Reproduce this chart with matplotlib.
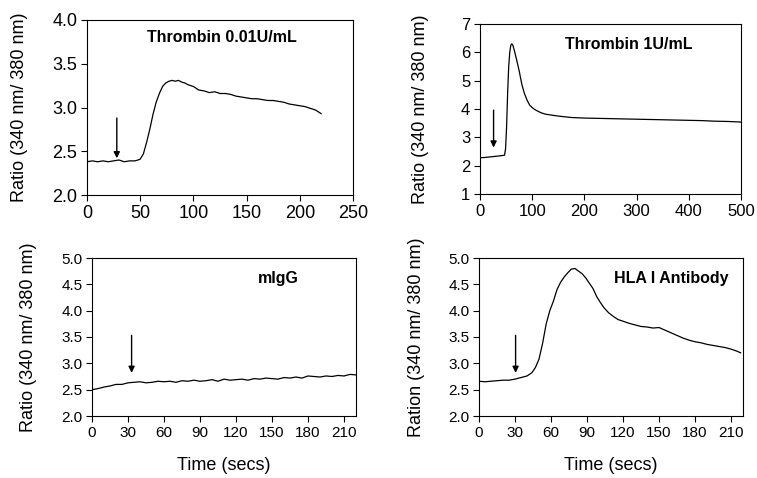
import matplotlib
matplotlib.use('Agg')
import matplotlib.pyplot as plt
from matplotlib.ticker import FormatStrFormatter
from matplotlib import font_manager

plt.rcParams['font.family'] = ['Liberation Sans', 'DejaVu Sans']

# panel A - thrombin 0.01 U/mL
t_a = [0, 5, 10, 15, 20, 25, 30, 35, 40, 45, 48, 50, 53, 56, 59, 62, 65, 68, 71, 74, 77, 80, 83, 86,
       89, 92, 95, 100, 105, 110, 115, 120, 125, 130, 135, 140, 145, 150, 155, 160, 165, 170, 175,
       180, 185, 190, 195, 200, 205, 210, 215, 220]
v_a = [2.38, 2.39, 2.38, 2.39, 2.38, 2.39, 2.40, 2.38, 2.39, 2.39, 2.40, 2.41, 2.47, 2.60, 2.75, 2.92,
       3.06, 3.16, 3.24, 3.28, 3.30, 3.31, 3.30, 3.31, 3.29, 3.28, 3.26, 3.24, 3.20, 3.19, 3.17, 3.18,
       3.16, 3.16, 3.15, 3.13, 3.12, 3.11, 3.10, 3.10, 3.09, 3.08, 3.08, 3.07, 3.06, 3.04, 3.03, 3.02,
       3.01, 2.99, 2.97, 2.93]

# panel B - thrombin 1 U/mL
t_b = [0, 10, 20, 30, 40, 47, 49, 51, 53, 55, 57, 59, 61, 63, 66, 70, 75, 80, 85, 90, 95, 100, 105,
       110, 118, 125, 135, 150, 175, 200, 225, 250, 275, 300, 325, 350, 375, 400, 425, 450, 475, 500]
v_b = [2.28, 2.29, 2.31, 2.33, 2.35, 2.37, 2.60, 3.40, 4.60, 5.50, 6.00, 6.25, 6.30, 6.25, 6.05, 5.75,
       5.35, 4.88, 4.55, 4.32, 4.14, 4.05, 3.98, 3.93, 3.86, 3.82, 3.79, 3.75, 3.70, 3.68, 3.67, 3.66,
       3.65, 3.64, 3.63, 3.62, 3.61, 3.60, 3.59, 3.57, 3.56, 3.54]

# panel C - mIgG
t_c = [0, 5, 10, 15, 20, 25, 30, 35, 40, 45, 50, 55, 60, 65, 70, 75, 80, 85, 90, 95, 100, 105, 110,
       115, 120, 125, 130, 135, 140, 145, 150, 155, 160, 165, 170, 175, 180, 185, 190, 195, 200, 205,
       210, 215, 220]
v_c = [2.50, 2.52, 2.55, 2.57, 2.60, 2.60, 2.63, 2.64, 2.65, 2.63, 2.64, 2.66, 2.65, 2.66, 2.64, 2.67,
       2.66, 2.68, 2.66, 2.67, 2.69, 2.66, 2.70, 2.68, 2.69, 2.70, 2.68, 2.71, 2.70, 2.72, 2.71, 2.70,
       2.73, 2.72, 2.74, 2.72, 2.76, 2.75, 2.74, 2.76, 2.75, 2.77, 2.76, 2.79, 2.78]

# panel D - HLA I antibody
t_d = [0, 5, 10, 15, 20, 25, 30, 35, 40, 44, 47, 50, 53, 56, 59, 62, 65, 68, 71, 74, 77, 80, 83, 86,
       89, 92, 95, 98, 101, 104, 108, 112, 116, 120, 125, 130, 135, 140, 145, 150, 155, 160, 165, 170,
       175, 180, 185, 190, 195, 200, 205, 210, 215, 218]
v_d = [2.66, 2.65, 2.66, 2.67, 2.68, 2.68, 2.70, 2.73, 2.76, 2.82, 2.92, 3.08, 3.38, 3.75, 4.00, 4.18,
       4.40, 4.54, 4.64, 4.72, 4.79, 4.80, 4.75, 4.70, 4.62, 4.52, 4.42, 4.27, 4.16, 4.06, 3.96, 3.89,
       3.83, 3.80, 3.76, 3.73, 3.70, 3.69, 3.67, 3.68, 3.63, 3.58, 3.53, 3.48, 3.44, 3.41, 3.39, 3.36,
       3.34, 3.32, 3.30, 3.27, 3.23, 3.20]

titles = ['Thrombin 0.01U/mL', 'Thrombin 1U/mL', 'mIgG', 'HLA I Antibody']
ylabels = ['Ratio (340 nm/ 380 nm)', 'Ratio (340 nm/ 380 nm)',
           'Ratio (340 nm/ 380 nm)', 'Ration (340 nm/ 380 nm)']

narrow = 'Liberation Sans Narrow'
names = {f.name for f in font_manager.fontManager.ttflist}
title_font = [narrow, 'Liberation Sans'] if narrow in names else ['Liberation Sans']

fig = plt.figure(figsize=(7.57, 4.78), dpi=100)
W, H = 757, 478

def add_axes(l, r, t, b):
    return fig.add_axes([l / W, 1 - b / H, (r - l) / W, (b - t) / H])

axA = add_axes(87, 353, 20, 195)
axB = add_axes(480, 741, 24, 194)
axC = add_axes(92, 356, 258, 416)
axD = add_axes(479, 743, 258, 416)

panels = [
    (axA, t_a, v_a, (0, 250), (2.0, 4.0), range(0, 251, 50), [2.0, 2.5, 3.0, 3.5, 4.0], '%.1f', 13,
     (28, 2.42, 2.88), (127, 3.80)),
    (axB, t_b, v_b, (0, 500), (1, 7), range(0, 501, 100), range(1, 8), '%d', 12,
     (26, 2.64, 3.96), (285, 6.29)),
    (axC, t_c, v_c, (0, 220), (2.0, 5.0), range(0, 211, 30), [2.0, 2.5, 3.0, 3.5, 4.0, 4.5, 5.0], '%.1f', 11,
     (33, 2.82, 3.53), (155, 4.62)),
    (axD, t_d, v_d, (0, 220), (2.0, 5.0), range(0, 211, 30), [2.0, 2.5, 3.0, 3.5, 4.0, 4.5, 5.0], '%.1f', 11,
     (30.5, 2.82, 3.53), (160, 4.62)),
]

label_x = [-0.222, -0.194, -0.208, -0.205]

for i, (ax, t, v, xl, yl, xt, yt, fmt, fs, arrow, tpos) in enumerate(panels):
    ax.plot(t, v, color='black', linewidth=0.9)
    ax.set_xlim(*xl)
    ax.set_ylim(*yl)
    ax.set_xticks(list(xt))
    ax.set_yticks(list(yt))
    ax.yaxis.set_major_formatter(FormatStrFormatter(fmt))
    ax.tick_params(direction='out', length=4, width=0.8, labelsize=fs, pad=3)
    for s in ax.spines.values():
        s.set_linewidth(0.8)
    ax.annotate('', xy=(arrow[0], arrow[1]), xytext=(arrow[0], arrow[2]),
                arrowprops=dict(arrowstyle='-|>', color='black', lw=1.0, mutation_scale=9,
                                shrinkA=0, shrinkB=0))
    ax.text(tpos[0], tpos[1], titles[i], ha='center', va='center', fontsize=11.5,
            fontweight='bold', family=title_font)
    ax.set_ylabel(ylabels[i], fontsize=13)
    ax.yaxis.set_label_coords(label_x[i], 0.5)

for ax in (axC, axD):
    ax.set_xlabel('Time (secs)', fontsize=13)
    ax.xaxis.set_label_coords(0.5, -0.26)

fig.savefig('out.png', dpi=100)
